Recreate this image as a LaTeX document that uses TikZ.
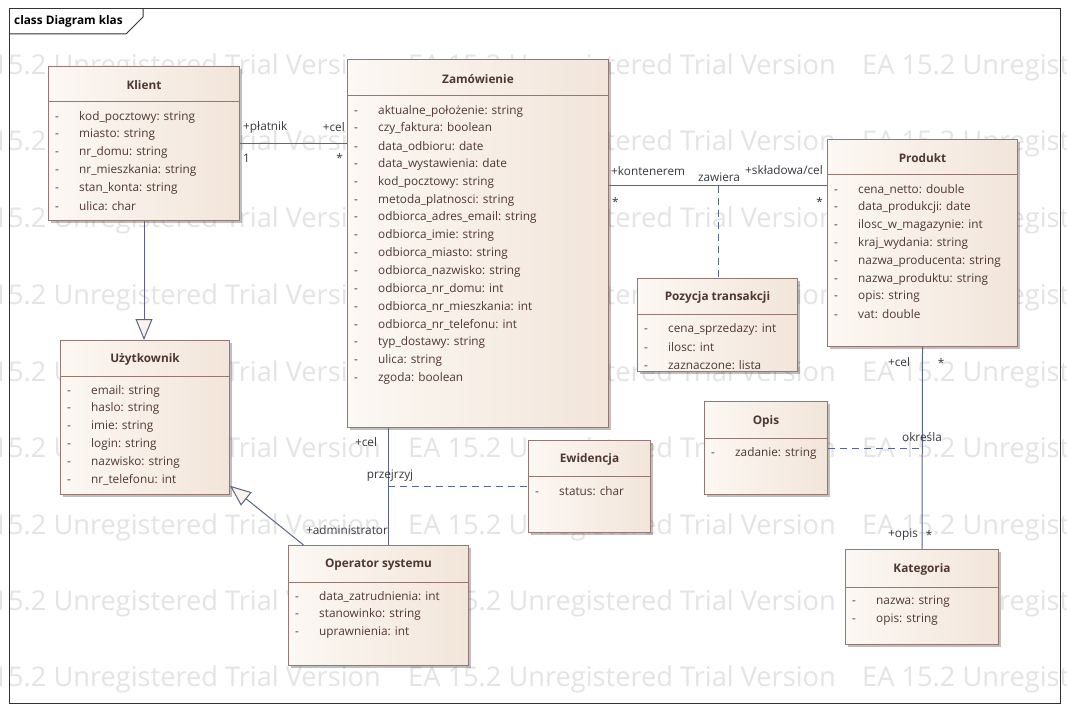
\documentclass[tikz,border=0pt]{standalone}
\usepackage{fontspec}
\setmainfont{Open Sans}
\usetikzlibrary{calc,shadows,arrows.meta}

\definecolor{boxline}{RGB}{150,120,115}
\definecolor{boxleft}{RGB}{252,248,243}
\definecolor{boxright}{RGB}{242,229,218}
\definecolor{conn}{RGB}{90,100,140}
\definecolor{txt}{RGB}{80,55,50}
\definecolor{lbltxt}{RGB}{55,55,65}
\definecolor{wmark}{RGB}{228,228,228}
\definecolor{genfill}{RGB}{250,242,236}

\tikzset{
  classbox/.style={draw=boxline, line width=1pt, left color=boxleft, right color=boxright,
    anchor=north west, inner sep=0pt,
    drop shadow={shadow xshift=2.5pt, shadow yshift=-2.5pt, fill=black, opacity=.25}},
  classtitle/.style={font=\fontsize{11.8}{14}\selectfont\bfseries, text=txt, inner sep=0pt},
  attr/.style={font=\fontsize{11.8}{14}\selectfont, text=txt, anchor=west, inner sep=0pt},
  lbl/.style={font=\fontsize{11.8}{14}\selectfont, text=lbltxt, inner sep=0pt},
  assoc/.style={draw=conn, line width=1pt},
  assocdash/.style={draw=conn, line width=1pt, dash pattern=on 7pt off 5pt},
  gen/.style={draw=conn, line width=1pt, -{Triangle[length=21pt, width=17pt, fill=genfill]}},
  wm/.style={font=\fontsize{27.2}{30}\selectfont, text=wmark, anchor=west, inner sep=0pt}
}

% class box: name, x, y, width, height, header height, title, attributes
\newcommand{\umlclass}[8]{%
  \node[classbox, minimum width=#4pt, minimum height=#5pt] (#1) at (#2,#3) {};
  \coordinate (#1-h) at ($(#1.north west)+(0,#6)$);
  \draw[boxline, line width=1pt] (#1-h) -- (#1-h -| #1.east);
  \node[classtitle] (#1-t) at ($(#1.north)+(0,#6/2+1.5)$) {#7};
  \foreach \a [count=\i] in {#8} {
    \node[attr] (#1-a\i) at ($(#1-h)+(7,15+17.8*\i-17.8)$) {\makebox[24pt][l]{-}\a};
  }
}

\begin{document}
\begin{tikzpicture}[x=1pt, y=-1pt]
  \useasboundingbox (0,0) rectangle (1067,711);
  \fill[white] (0,0) rectangle (1067,711);

  % watermark
  \begin{scope}
    \clip (0,0) rectangle (1067,711);
    \foreach \r [count=\j] in {67,143.5,220,297,374,450,527,603,679}
      \foreach \c [count=\k] in {-47,408,862}
        \node[wm] (wm-\j-\k) at (\c,\r) {EA 15.2 Unregistered Trial Version};
  \end{scope}

  % frame
  \draw[line width=1pt, black!80] (9,9) rectangle (1060,703);
  \draw[line width=1pt, black!80] (9,34) -- (126,34) -- (143,17) -- (143,9);
  \node[anchor=west, inner sep=0pt, font=\fontsize{11.8}{14}\selectfont\bfseries] (frame-t) at (14,21) {class Diagram klas};

  % classes
  \umlclass{klient}{48}{66}{191}{154}{36}{Klient}
    {kod\_pocztowy: string, miasto: string, nr\_domu: string, nr\_mieszkania: string,
     stan\_konta: string, ulica: char}
  \umlclass{zamowienie}{347}{59}{261}{368}{37}{Zamówienie}
    {aktualne\_położenie: string, czy\_faktura: boolean, data\_odbioru: date,
     data\_wystawienia: date, kod\_pocztowy: string, metoda\_platnosci: string,
     odbiorca\_adres\_email: string, odbiorca\_imie: string, odbiorca\_miasto: string,
     odbiorca\_nazwisko: string, odbiorca\_nr\_domu: int, odbiorca\_nr\_mieszkania: int,
     odbiorca\_nr\_telefonu: int, typ\_dostawy: string, ulica: string, zgoda: boolean}
  \umlclass{produkt}{827}{139}{190}{207}{36}{Produkt}
    {cena\_netto: double, data\_produkcji: date, ilosc\_w\_magazynie: int,
     kraj\_wydania: string, nazwa\_producenta: string, nazwa\_produktu: string,
     opis: string, vat: double}
  \umlclass{pozycja}{637}{278}{160}{93}{36}{Pozycja transakcji}
    {cena\_sprzedazy: int, ilosc: int, zaznaczone: lista}
  \umlclass{uzytkownik}{60}{340}{169}{154}{36}{Użytkownik}
    {email: string, haslo: string, imie: string, login: string, nazwisko: string,
     nr\_telefonu: int}
  \umlclass{operator}{288}{545}{180}{120}{37}{Operator systemu}
    {data\_zatrudnienia: int, stanowinko: string, uprawnienia: int}
  \umlclass{ewidencja}{528}{440}{122}{92}{36}{Ewidencja}
    {status: char}
  \umlclass{opis}{704}{401}{123}{93}{37}{Opis}
    {zadanie: string}
  \umlclass{kategoria}{845}{549}{153}{95}{38}{Kategoria}
    {nazwa: string, opis: string}

  % connectors
  \draw[assoc] (klient.east) -- (zamowienie.west |- klient.east);
  \coordinate (zawiera) at (718,186);
  \draw[assoc] (zamowienie.east |- zawiera) -- (produkt.west |- zawiera);
  \draw[assocdash] (zawiera) -- (pozycja.north -| zawiera);
  \draw[gen] (klient.south) -- (uzytkownik.north -| klient.south);
  \draw[gen] (operator) -- (uzytkownik);
  \coordinate (przejrzyj) at (388,486);
  \draw[assoc] (zamowienie.south -| przejrzyj) -- (operator.north -| przejrzyj);
  \draw[assocdash] (przejrzyj) -- (ewidencja.west |- przejrzyj);
  \draw[assoc] (produkt.south) -- (kategoria.north);
  \coordinate (okresla) at (produkt.south |- opis.east);
  \draw[assocdash] (opis.east) -- (okresla);

  % labels
  \node[lbl, anchor=west] (l-platnik) at (243,127) {+płatnik};
  \node[lbl, anchor=west] (l-jeden) at (243,158) {1};
  \node[lbl, anchor=east] (l-cel1) at (345,127) {+cel};
  \node[lbl, anchor=east] (l-gw1) at (343,158) {*};
  \node[lbl, anchor=west] (l-kont) at (611,171) {+kontenerem};
  \node[lbl, anchor=west] (l-gw2) at (612,202) {*};
  \node[lbl] (l-zawiera) at (719,177) {zawiera};
  \node[lbl, anchor=east] (l-skl) at (823,170) {+składowa/cel};
  \node[lbl, anchor=east] (l-gw3) at (823,202) {*};
  \node[lbl] (l-cel2) at (366,442) {+cel};
  \node[lbl] (l-przejrzyj) at (390,476) {przejrzyj};
  \node[lbl] (l-admin) at (347,530) {+administrator};
  \node[lbl] (l-cel3) at (899,362) {+cel};
  \node[lbl] (l-gw4) at (941,363) {*};
  \node[lbl] (l-okresla) at (922,437) {określa};
  \node[lbl] (l-opis) at (903,535) {+opis};
  \node[lbl] (l-gw5) at (929,535) {*};
\end{tikzpicture}
\end{document}
